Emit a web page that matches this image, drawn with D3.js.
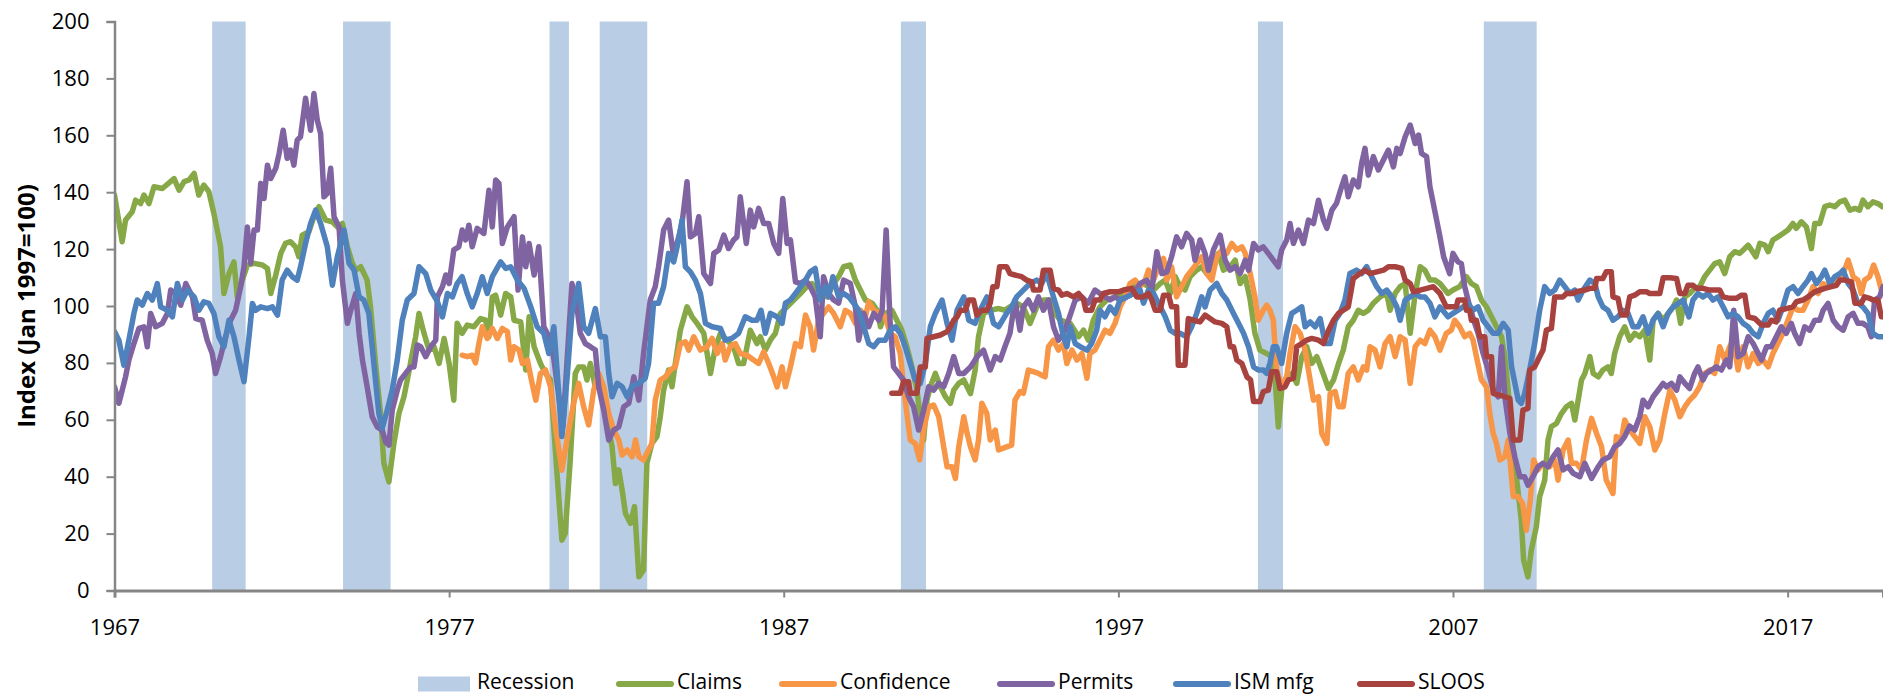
<!DOCTYPE html>
<html>
<head>
<meta charset="utf-8">
<script src="https://cdn.jsdelivr.net/npm/d3@7"></script>
<style>
  html, body { margin: 0; padding: 0; background: #fff; }
  svg { display: block; font-family: "Open Sans", "Liberation Sans", sans-serif; }
</style>
</head>
<body>
<div id="chart"></div>
<script>
/////////////////////
// Data (decimal year, index value)
/////////////////////
const recessions = [[1969.92, 1970.92], [1973.83, 1975.25], [1980.0, 1980.58], [1981.5, 1982.92],
  [1990.5, 1991.25], [2001.17, 2001.92], [2007.92, 2009.5]];

const yTicks = [0, 20, 40, 60, 80, 100, 120, 140, 160, 180, 200];
const xTicks = [1967, 1977, 1987, 1997, 2007, 2017];

const claims = [
  [1967.0,139],[1967.23,122.6],[1967.33,130.2],[1967.53,133.1],[1967.63,137.2],[1967.78,136],[1967.88,139],
  [1968.03,136],[1968.18,141.9],[1968.43,141.3],[1968.78,144.8],[1968.93,140.7],[1969.08,143.7],[1969.23,144.3],
  [1969.38,146.6],[1969.52,139],[1969.67,142.5],[1969.82,140.2],[1969.97,132.5],[1970.07,126.7],[1970.17,120.8],
  [1970.27,104.4],[1970.42,111.4],[1970.57,115.5],[1970.67,103.2],[1970.82,109.1],[1970.97,114.4],[1971.17,115],
  [1971.42,114.4],[1971.57,113.2],[1971.67,104.4],[1971.82,110.9],[1971.97,118.5],[1972.11,122],[1972.26,122.6],
  [1972.41,120.8],[1972.51,117.3],[1972.61,124.9],[1972.81,126.1],[1972.96,131.4],[1973.11,134.9],[1973.31,130.2],
  [1973.51,129.6],[1973.66,127.8],[1973.81,129],[1973.96,120.8],[1974.11,115],[1974.21,112.6],[1974.36,113.8],
  [1974.55,109.1],[1974.65,99.7],[1974.8,79.8],[1974.95,62.2],[1975.05,44.7],[1975.2,38.2],[1975.35,51.7],
  [1975.5,62.2],[1975.65,68.1],[1975.75,74],[1975.9,83.3],[1976.0,89.2],[1976.1,97.4],[1976.25,90.4],
  [1976.4,84.5],[1976.55,85.7],[1976.7,79.8],[1976.85,88.6],[1977.0,79.8],[1977.14,66.9],[1977.24,93.9],
  [1977.39,90.4],[1977.54,93.3],[1977.74,92.7],[1977.94,95.6],[1978.09,95],[1978.19,89.2],[1978.29,103.2],
  [1978.39,103.8],[1978.54,96.8],[1978.69,104.4],[1978.84,103.2],[1978.94,95],[1979.14,94.4],[1979.29,77.5],
  [1979.39,96.2],[1979.54,85.7],[1979.73,79.8],[1979.88,76.3],[1980.03,74],[1980.2,45],[1980.37,17.7],
  [1980.47,20.1],[1980.62,45.9],[1980.77,76.3],[1980.87,78.6],[1981.02,78.6],[1981.12,74],[1981.22,79.8],
  [1981.37,71.6],[1981.52,72.8],[1981.62,70.4],[1981.77,56.4],[1981.87,50.5],[1981.97,37.6],[1982.07,42.4],
  [1982.17,35.3],[1982.27,27.1],[1982.42,23.6],[1982.54,29.5],[1982.67,4.8],[1982.81,7.2],[1982.91,44.7],
  [1983.06,51.7],[1983.21,54.1],[1983.31,61.1],[1983.41,70.4],[1983.56,77.5],[1983.66,71.6],[1983.76,79.8],
  [1983.91,91.5],[1984.11,99.7],[1984.26,96.2],[1984.41,93.9],[1984.61,90.4],[1984.81,76.3],[1984.96,85.7],
  [1985.11,90.4],[1985.3,88],[1985.5,85.7],[1985.65,79.8],[1985.8,79.8],[1986.0,91.5],[1986.2,86.8],
  [1986.3,89.2],[1986.45,84.5],[1986.6,88],[1986.75,90.4],[1986.9,97.4],[1987.1,99.7],[1987.3,102.1],
  [1987.5,104.4],[1987.69,106.8],[1987.84,107.9],[1988.09,104.4],[1988.29,103.2],[1988.49,107.9],[1988.64,110.3],
  [1988.79,113.8],[1988.99,114.4],[1989.14,109.1],[1989.29,105.6],[1989.44,102.1],[1989.64,101],[1989.79,98.5],
  [1989.89,92.7],[1990.03,97.4],[1990.23,98.5],[1990.38,95],[1990.53,91.5],[1990.68,85.7],[1990.83,78.6],
  [1990.98,70.4],[1991.08,61.1],[1991.18,52.9],[1991.28,66.9],[1991.38,71.6],[1991.53,76.3],[1991.68,71.6],
  [1991.83,68.1],[1991.98,65.8],[1992.08,70.4],[1992.23,72.8],[1992.38,74],[1992.58,69.2],[1992.72,77.5],
  [1992.82,89.2],[1992.97,97.4],[1993.17,98.5],[1993.42,99.1],[1993.61,98.5],[1993.76,99.7],[1993.96,101],
  [1994.16,99.7],[1994.36,93.9],[1994.56,99.7],[1994.76,102.1],[1994.96,102.1],[1995.11,97.4],[1995.26,95],
  [1995.56,93.9],[1995.81,89.2],[1995.96,91.5],[1996.1,88],[1996.25,95],[1996.45,99.7],[1996.65,102.1],
  [1996.9,103.2],[1997.15,104.4],[1997.45,106.8],[1997.75,107.9],[1998.05,105.6],[1998.25,107.9],[1998.4,109.1],
  [1998.55,104.4],[1998.7,110.3],[1998.84,106.8],[1998.99,105.6],[1999.14,110.3],[1999.34,112.6],[1999.49,113.8],
  [1999.64,111.4],[1999.84,113.8],[1999.99,118.5],[2000.14,112.6],[2000.34,113.8],[2000.49,116.1],[2000.64,107.9],
  [2000.79,110.3],[2000.94,102.1],[2001.08,90.4],[2001.23,84.5],[2001.43,83.3],[2001.58,82.2],[2001.68,74.9],
  [2001.78,57.5],[2001.88,70.4],[2002.03,75.1],[2002.18,76.3],[2002.33,72.8],[2002.48,82.2],[2002.63,85.7],
  [2002.78,79.8],[2002.93,82.2],[2003.08,77.5],[2003.28,71],[2003.43,74],[2003.58,79.8],[2003.72,84.5],
  [2003.87,92.7],[2004.02,95],[2004.17,98.5],[2004.32,97.4],[2004.47,98.5],[2004.62,101],[2004.82,103.2],
  [2005.02,104.4],[2005.12,98.5],[2005.27,104.4],[2005.42,106.8],[2005.57,107.9],[2005.72,90.4],[2005.87,104.4],
  [2006.02,113.8],[2006.16,112.6],[2006.31,109.1],[2006.46,109.1],[2006.61,107.9],[2006.85,104.4],[2007.0,105.6],
  [2007.2,106.8],[2007.4,110.3],[2007.55,107.9],[2007.7,106.8],[2007.85,102.1],[2008.0,99.7],[2008.15,96.2],
  [2008.3,92.7],[2008.45,89.2],[2008.55,82.2],[2008.65,70.4],[2008.75,55.2],[2008.85,44.7],[2008.95,34.1],
  [2009.04,24.8],[2009.11,10.7],[2009.24,4.8],[2009.34,14.2],[2009.49,22.4],[2009.59,33],[2009.74,38.8],
  [2009.84,52.9],[2009.94,57.6],[2010.09,58.7],[2010.24,62.2],[2010.39,64.6],[2010.54,65.8],[2010.64,59.9],
  [2010.74,66.9],[2010.84,74],[2010.94,76.3],[2011.09,82.2],[2011.19,76.3],[2011.34,75.1],[2011.48,77.5],
  [2011.63,78.6],[2011.73,76.3],[2011.83,83.3],[2011.98,89.2],[2012.13,92.7],[2012.28,88],[2012.43,90.4],
  [2012.58,89.2],[2012.73,91.5],[2012.88,81],[2012.98,95],[2013.13,97.4],[2013.28,95],[2013.43,97.4],
  [2013.58,99.7],[2013.68,102.1],[2013.8,93.9],[2013.93,103.2],[2014.07,104.4],[2014.22,106.2],[2014.37,106.8],
  [2014.52,110.3],[2014.67,112.6],[2014.82,114.9],[2014.97,115.5],[2015.12,111.4],[2015.27,117.3],[2015.42,119.1],
  [2015.57,118.5],[2015.72,120.2],[2015.82,121.4],[2015.92,119.7],[2016.05,117.3],[2016.17,122],[2016.32,121.4],
  [2016.42,119.1],[2016.56,123.2],[2016.71,124.3],[2016.86,125.5],[2017.01,126.7],[2017.16,129],[2017.26,127.3],
  [2017.41,129.6],[2017.56,127.8],[2017.71,120.2],[2017.81,129],[2017.96,129],[2018.11,134.9],[2018.26,135.5],
  [2018.41,134.9],[2018.56,136.6],[2018.71,137.2],[2018.86,133.7],[2019.01,134.3],[2019.15,133.7],[2019.25,137.2],
  [2019.4,134.9],[2019.55,136.6],[2019.7,136],[2019.83,134.9]
];

const confidence = [
  [1977.39,82.7],[1977.54,82.2],[1977.69,82.7],[1977.79,80],[1977.89,86.8],[1977.99,92.7],[1978.14,88.6],
  [1978.29,92.1],[1978.44,88.6],[1978.59,92.1],[1978.74,91],[1978.84,81],[1978.94,85.7],[1979.09,84.5],
  [1979.19,79.8],[1979.34,81],[1979.44,75.1],[1979.59,66.9],[1979.73,76.3],[1979.88,77.5],[1980.03,71.6],
  [1980.18,57.5],[1980.37,42.3],[1980.52,52.9],[1980.72,65.8],[1980.87,72.8],[1981.02,64.6],[1981.17,58.2],
  [1981.32,70.4],[1981.47,76.3],[1981.62,71.6],[1981.77,62.2],[1981.92,56.4],[1982.07,52.9],[1982.17,47.6],
  [1982.32,49.4],[1982.47,47],[1982.57,52.9],[1982.67,47],[1982.81,45.9],[1982.96,49.4],[1983.06,51.7],
  [1983.16,66.9],[1983.31,74],[1983.46,75.1],[1983.61,77.5],[1983.76,78.6],[1983.91,86.8],[1984.06,87.4],
  [1984.16,84.5],[1984.31,89.2],[1984.51,84.5],[1984.71,85.7],[1984.86,88.6],[1985.01,83.3],[1985.16,86.8],
  [1985.25,81],[1985.4,85.7],[1985.55,86.8],[1985.7,83.3],[1985.9,82.7],[1986.1,81],[1986.25,79.8],
  [1986.4,83.9],[1986.55,79.8],[1986.7,75.1],[1986.8,71.6],[1986.95,78.6],[1987.05,71.6],[1987.2,78.6],
  [1987.35,86.8],[1987.5,85.7],[1987.65,96.8],[1987.79,92.7],[1987.89,84.5],[1988.04,95],[1988.19,97.4],
  [1988.34,99.7],[1988.49,97.4],[1988.69,92.7],[1988.84,98.5],[1988.99,97.4],[1989.14,93.9],[1989.29,98.5],
  [1989.44,96.2],[1989.54,101.5],[1989.69,98.5],[1989.89,97.4],[1990.03,96.2],[1990.18,90.4],[1990.33,89.2],
  [1990.48,83.3],[1990.63,66.9],[1990.78,52.9],[1990.93,51.7],[1991.06,45.9],[1991.18,56.4],[1991.33,64.6],
  [1991.48,65.2],[1991.63,61.1],[1991.78,50.5],[1991.88,43.5],[1992.03,43.5],[1992.13,39.4],[1992.23,50.5],
  [1992.38,61.1],[1992.48,55.2],[1992.58,50.5],[1992.72,45.9],[1992.82,52.9],[1992.92,65.8],[1993.07,62.2],
  [1993.17,52.9],[1993.32,56.4],[1993.42,49.4],[1993.66,50.5],[1993.81,51.1],[1993.91,66.9],[1994.06,69.9],
  [1994.16,69.3],[1994.31,77.5],[1994.46,76.9],[1994.61,76.3],[1994.81,75.1],[1994.91,85.7],[1995.06,88],
  [1995.21,84.5],[1995.36,86.8],[1995.46,79.8],[1995.61,84.5],[1995.76,81],[1995.91,83.3],[1996.06,74.6],
  [1996.15,83.3],[1996.3,84.5],[1996.45,88],[1996.6,91.5],[1996.75,90.4],[1996.9,93.9],[1997.05,99.7],
  [1997.2,103.2],[1997.35,107.9],[1997.5,109.1],[1997.65,106.8],[1997.8,109.1],[1997.9,112.6],[1998.05,109.1],
  [1998.2,113.8],[1998.35,116.7],[1998.45,109.1],[1998.59,113.8],[1998.74,103.2],[1998.89,106.8],[1999.04,110.3],
  [1999.19,112.6],[1999.34,114.9],[1999.49,117.3],[1999.64,111.4],[1999.79,109.1],[1999.94,117.3],[2000.09,119.6],
  [2000.24,118.5],[2000.39,122],[2000.54,119.7],[2000.69,120.8],[2000.79,118.5],[2000.94,111.4],[2001.08,103.2],
  [2001.18,95],[2001.33,98.5],[2001.43,100.3],[2001.53,98.5],[2001.63,95],[2001.73,77.5],[2001.88,71.6],
  [2002.03,75.1],[2002.13,83.3],[2002.28,92.7],[2002.43,90.4],[2002.58,84.5],[2002.73,74],[2002.83,66.9],
  [2002.98,68.1],[2003.08,55.2],[2003.23,51.7],[2003.33,69.3],[2003.48,69.9],[2003.58,64.6],[2003.72,64.6],
  [2003.87,76.3],[2004.02,78.6],[2004.17,74],[2004.32,78.6],[2004.42,77.5],[2004.52,85.7],[2004.67,84.5],
  [2004.82,78.6],[2004.97,86.8],[2005.12,89.2],[2005.27,82.2],[2005.42,89.2],[2005.57,88],[2005.72,72.8],
  [2005.87,85.7],[2006.02,88],[2006.16,86.8],[2006.31,91.5],[2006.46,89.2],[2006.61,84.5],[2006.8,90.4],
  [2006.95,91.5],[2007.05,95],[2007.2,92.7],[2007.35,89.2],[2007.5,90.4],[2007.6,88],[2007.7,82.2],
  [2007.85,74],[2008.0,71.6],[2008.1,62.2],[2008.2,55.2],[2008.3,51.7],[2008.4,45.9],[2008.55,47],
  [2008.65,52.9],[2008.8,33],[2008.95,33],[2009.08,30.6],[2009.19,21.2],[2009.31,31.8],[2009.41,45.9],
  [2009.54,42.4],[2009.69,44.7],[2009.89,43.5],[2010.04,45.9],[2010.14,38.8],[2010.29,49.4],[2010.44,52.9],
  [2010.54,44.7],[2010.69,44.7],[2010.84,42.4],[2010.99,52.9],[2011.14,60.5],[2011.29,55.2],[2011.44,50.5],
  [2011.58,38.8],[2011.78,34.1],[2011.88,54.1],[2012.03,52.9],[2012.13,59.9],[2012.28,56.4],[2012.43,54.1],
  [2012.58,51.7],[2012.73,61.1],[2012.88,57.6],[2013.03,49.4],[2013.18,52.9],[2013.33,62.2],[2013.48,70.4],
  [2013.63,66.9],[2013.78,61.1],[2013.93,64.6],[2014.07,66.9],[2014.22,68.7],[2014.37,71.6],[2014.52,76.3],
  [2014.67,77.5],[2014.82,76.3],[2014.97,85.7],[2015.12,81],[2015.27,85.7],[2015.37,88],[2015.52,77.5],
  [2015.67,85.7],[2015.82,78.6],[2015.97,83.3],[2016.12,79.8],[2016.27,81],[2016.42,78.6],[2016.56,83.3],
  [2016.71,86.8],[2016.86,90.4],[2017.01,95],[2017.16,99.7],[2017.31,98.5],[2017.46,98.5],[2017.61,102.1],
  [2017.76,106.8],[2017.91,104.4],[2018.06,107.9],[2018.21,106.8],[2018.36,107.9],[2018.51,110.3],[2018.66,111.4],
  [2018.81,116.1],[2018.96,110.3],[2019.1,109.1],[2019.2,104.4],[2019.3,109.1],[2019.45,110.3],[2019.57,114.4],
  [2019.7,110.3],[2019.83,104.4]
];

const permits = [
  [1967.0,71.6],[1967.13,65.8],[1967.23,70.4],[1967.33,75.1],[1967.43,81],[1967.58,86.8],[1967.73,92.1],
  [1967.88,92.7],[1967.98,85.7],[1968.08,97.4],[1968.23,92.7],[1968.43,93.9],[1968.58,97.4],[1968.68,105.6],
  [1968.83,104.4],[1968.98,100.3],[1969.13,107.9],[1969.33,103.2],[1969.43,95.6],[1969.62,95],[1969.77,88],
  [1969.92,83.3],[1970.02,76.3],[1970.17,82.2],[1970.32,89.2],[1970.47,95],[1970.62,98.5],[1970.77,106.8],
  [1970.87,113.8],[1970.97,127.8],[1971.07,115],[1971.17,126.7],[1971.27,126.7],[1971.37,143.1],[1971.47,137.8],
  [1971.57,149.5],[1971.67,144.8],[1971.82,148.4],[1971.92,153.6],[1972.04,161.8],[1972.16,151.9],[1972.26,154.8],
  [1972.36,149.5],[1972.46,158.3],[1972.56,159.5],[1972.71,173],[1972.86,161.8],[1972.96,174.7],[1973.06,165.3],
  [1973.16,160.6],[1973.26,138.4],[1973.36,139.6],[1973.46,148.4],[1973.56,131.4],[1973.71,127.8],[1973.81,109.1],
  [1973.96,93.9],[1974.06,98.5],[1974.21,104.4],[1974.31,90.4],[1974.41,81],[1974.55,71.6],[1974.7,61.1],
  [1974.85,57.5],[1975.0,56.4],[1975.1,52.3],[1975.2,51.1],[1975.3,63.4],[1975.45,70.4],[1975.55,74],
  [1975.7,76.3],[1975.85,78.6],[1975.95,78.6],[1976.05,86.3],[1976.15,85.7],[1976.3,82.2],[1976.45,85.7],
  [1976.6,88],[1976.65,103.2],[1976.8,106.8],[1976.9,110.9],[1977.0,107.9],[1977.14,119.7],[1977.29,120.8],
  [1977.39,126.7],[1977.49,123.2],[1977.59,128.4],[1977.69,120.8],[1977.84,127.3],[1978.04,125.5],[1978.19,140.7],
  [1978.29,127.8],[1978.39,144.3],[1978.49,143.1],[1978.59,122],[1978.74,127.8],[1978.94,131.4],[1979.06,105.6],
  [1979.19,124.3],[1979.29,113.8],[1979.39,122],[1979.54,110.9],[1979.68,120.8],[1979.83,92.7],[1979.93,90.4],
  [1980.08,85.7],[1980.4,57.5],[1980.67,107.9],[1980.82,99.7],[1980.92,90.4],[1981.07,86.8],[1981.22,85.7],
  [1981.37,84.5],[1981.47,71.6],[1981.62,63.4],[1981.77,52.9],[1981.92,56.4],[1982.07,57.5],[1982.22,64.6],
  [1982.37,65.8],[1982.52,75.1],[1982.67,66.9],[1982.81,83.3],[1982.91,92.7],[1983.01,102.1],[1983.16,106.8],
  [1983.26,113.8],[1983.41,126.7],[1983.56,130.2],[1983.71,117.3],[1983.86,124.3],[1983.96,129],[1984.11,143.7],
  [1984.21,124.3],[1984.36,125.5],[1984.46,131.4],[1984.61,111.4],[1984.81,107.9],[1984.91,118.5],[1985.06,119.7],
  [1985.21,124.9],[1985.35,120.2],[1985.5,123.2],[1985.6,124.3],[1985.7,138.4],[1985.88,122],[1986.0,133.7],
  [1986.1,127.8],[1986.25,134.3],[1986.4,129],[1986.55,129],[1986.7,122],[1986.85,118.5],[1986.97,137.8],
  [1987.1,122],[1987.2,123.2],[1987.35,108.5],[1987.5,107.9],[1987.65,109.1],[1987.79,106.8],[1987.94,103.2],
  [1988.09,89.2],[1988.19,110.3],[1988.34,104.4],[1988.49,102.1],[1988.64,101],[1988.79,109.1],[1988.99,107.9],
  [1989.14,99.7],[1989.24,88],[1989.39,97.4],[1989.54,92.7],[1989.69,97.4],[1989.84,95],[1989.94,98.5],
  [1990.06,126.7],[1990.18,93.9],[1990.28,78.6],[1990.43,76.3],[1990.58,74],[1990.73,68.1],[1990.88,64.6],
  [1991.03,56.4],[1991.18,63.4],[1991.33,71.6],[1991.48,70.4],[1991.63,72.8],[1991.78,71.6],[1991.93,76.3],
  [1992.08,82.2],[1992.23,76.3],[1992.38,76.3],[1992.58,78.6],[1992.78,82.2],[1992.97,84.5],[1993.17,77.5],
  [1993.32,82.2],[1993.47,81],[1993.61,85.7],[1993.76,90.4],[1993.91,102.1],[1994.06,91.5],[1994.16,99.7],
  [1994.31,102.1],[1994.46,98.5],[1994.61,103.2],[1994.76,98.5],[1994.91,102.1],[1995.06,92.7],[1995.21,88],
  [1995.36,90.4],[1995.51,95],[1995.71,102.1],[1995.91,103.2],[1996.1,101],[1996.3,105.6],[1996.45,104.4],
  [1996.6,103.2],[1996.75,102.1],[1996.9,103.2],[1997.05,102.1],[1997.25,103.2],[1997.45,104.4],[1997.65,107.9],
  [1997.85,109.1],[1998.0,105.6],[1998.15,119.1],[1998.3,111.4],[1998.45,112],[1998.59,117.3],[1998.74,124.3],
  [1998.89,120.8],[1999.04,125.5],[1999.19,123.2],[1999.29,116.1],[1999.44,123.2],[1999.59,118.5],[1999.69,112.6],
  [1999.84,119.7],[2000.04,124.9],[2000.19,116.1],[2000.34,112.6],[2000.49,113.8],[2000.64,111.4],[2000.79,116.1],
  [2000.89,112.6],[2001.04,122],[2001.18,119.7],[2001.33,120.8],[2001.48,118.5],[2001.63,116.1],[2001.78,113.8],
  [2001.88,119.7],[2002.03,123.2],[2002.13,129],[2002.23,122],[2002.38,126.7],[2002.53,122],[2002.68,130.2],
  [2002.83,129],[2002.98,137.2],[2003.13,130.2],[2003.23,127.3],[2003.38,133.7],[2003.52,136.1],[2003.67,141.9],
  [2003.77,145.4],[2003.87,138.4],[2004.02,144.3],[2004.17,141.9],[2004.27,150.1],[2004.37,155.4],[2004.47,146],
  [2004.62,152.5],[2004.77,147.8],[2004.92,151.3],[2005.07,154.8],[2005.22,148.9],[2005.32,155.4],[2005.42,153.6],
  [2005.57,159.5],[2005.72,163.6],[2005.87,157.1],[2005.97,160.1],[2006.06,153.6],[2006.21,152.5],[2006.31,141.9],
  [2006.41,136.1],[2006.51,130.2],[2006.61,124.3],[2006.72,117.3],[2006.9,111.4],[2007.0,118.5],[2007.15,115.5],
  [2007.25,114.9],[2007.35,106.8],[2007.5,99.7],[2007.65,93.9],[2007.75,90.4],[2007.9,83.3],[2008.05,77.5],
  [2008.2,70.4],[2008.35,68.1],[2008.45,85.7],[2008.55,68.1],[2008.7,55.2],[2008.85,46.8],[2009.0,40],
  [2009.14,40],[2009.24,37],[2009.39,40],[2009.54,43.5],[2009.69,44.7],[2009.84,43.5],[2009.99,47],
  [2010.14,49.4],[2010.29,42.4],[2010.44,43.5],[2010.59,41.2],[2010.79,40],[2010.94,44.7],[2011.14,39.4],
  [2011.34,43.5],[2011.48,45.9],[2011.68,47],[2011.83,50.5],[2011.98,51.7],[2012.13,54.1],[2012.28,57.8],
  [2012.43,56.4],[2012.58,61.1],[2012.68,66.9],[2012.83,64.6],[2012.98,68.1],[2013.13,70.4],[2013.28,72.8],
  [2013.38,71.6],[2013.53,72.8],[2013.68,70.4],[2013.78,75.1],[2013.93,72.8],[2014.07,71],[2014.22,76.3],
  [2014.32,78.6],[2014.47,74],[2014.57,76.3],[2014.72,77.5],[2014.87,78.6],[2015.02,77.5],[2015.17,81],
  [2015.27,78.6],[2015.39,98.5],[2015.52,82.2],[2015.67,83.3],[2015.82,89.2],[2015.97,86.8],[2016.12,83.3],
  [2016.22,81],[2016.37,85.7],[2016.51,85.7],[2016.66,89.2],[2016.81,92.7],[2016.96,90.4],[2017.11,93.9],
  [2017.21,90.4],[2017.36,86.8],[2017.51,92.7],[2017.66,91.5],[2017.81,95],[2017.96,95],[2018.06,98.5],
  [2018.21,100.9],[2018.36,95],[2018.51,92.7],[2018.66,91.5],[2018.81,96.2],[2018.96,97.4],[2019.1,93.9],
  [2019.25,93.9],[2019.4,92.7],[2019.5,89.2],[2019.6,102.1],[2019.75,103.2],[2019.85,106.8]
];

const ism = [
  [1967.0,91],[1967.13,88],[1967.28,79.2],[1967.43,88],[1967.58,97.4],[1967.68,102.1],[1967.83,100.3],
  [1967.98,104.4],[1968.13,102.1],[1968.28,107.9],[1968.38,99.7],[1968.58,98.5],[1968.73,96.2],[1968.88,107.9],
  [1969.03,102.1],[1969.18,105.6],[1969.38,103.2],[1969.52,98.5],[1969.67,101.5],[1969.82,100.9],[1969.97,97.4],
  [1970.12,89.2],[1970.27,85.7],[1970.42,95],[1970.57,89.2],[1970.72,81],[1970.87,73.4],[1971.02,89.2],
  [1971.12,100.9],[1971.22,98.5],[1971.37,99.7],[1971.57,99.1],[1971.72,99.7],[1971.87,96.8],[1972.01,109.1],
  [1972.16,112.6],[1972.31,110.3],[1972.46,109.1],[1972.56,113.8],[1972.71,122],[1972.86,129],[1973.01,133.7],
  [1973.16,129],[1973.36,120.8],[1973.51,107.3],[1973.66,117.3],[1973.86,126.7],[1974.01,115],[1974.16,112.6],
  [1974.31,103.2],[1974.45,102.1],[1974.6,97.4],[1974.75,79.8],[1974.9,62.2],[1975.0,57],[1975.15,63.4],
  [1975.3,70.4],[1975.45,81],[1975.6,95],[1975.75,102.1],[1975.95,104.4],[1976.1,113.8],[1976.3,111.4],
  [1976.45,105.6],[1976.65,101.5],[1976.8,96.2],[1976.95,104.4],[1977.1,103.2],[1977.24,107.9],[1977.39,110.3],
  [1977.54,104.4],[1977.69,99.7],[1977.84,104.4],[1977.99,110.3],[1978.14,104.4],[1978.29,110.3],[1978.54,115.5],
  [1978.69,113.2],[1978.84,113.8],[1979.04,109.1],[1979.24,106.2],[1979.44,99.7],[1979.63,92.7],[1979.83,90.4],
  [1979.98,83.3],[1980.13,92.7],[1980.37,54.1],[1980.52,74],[1980.67,97.4],[1980.87,107.9],[1981.02,92.7],
  [1981.17,90.4],[1981.37,99.1],[1981.52,89.2],[1981.67,89.2],[1981.77,76.3],[1981.87,68.1],[1982.02,72.8],
  [1982.17,71.6],[1982.32,68.1],[1982.47,71.9],[1982.67,72.8],[1982.86,74.6],[1982.96,79.8],[1983.11,101],
  [1983.26,101],[1983.41,106.8],[1983.56,118.5],[1983.71,115.5],[1983.86,123.2],[1983.96,130.2],[1984.06,113.8],
  [1984.21,112],[1984.36,109.1],[1984.51,104.4],[1984.66,93.9],[1984.86,92.7],[1985.11,92.1],[1985.25,88],
  [1985.45,88.6],[1985.65,90.4],[1985.85,96.2],[1986.05,95],[1986.2,95],[1986.32,98.5],[1986.45,90.4],
  [1986.6,97.4],[1986.8,96.2],[1986.95,93.9],[1987.05,101],[1987.2,102.1],[1987.35,104.4],[1987.5,106.8],
  [1987.65,109.1],[1987.79,112],[1987.94,113.2],[1988.09,102.1],[1988.24,106.8],[1988.34,103.2],[1988.47,110.3],
  [1988.64,103.2],[1988.79,104.4],[1988.94,103.2],[1989.09,101],[1989.24,98.5],[1989.39,92.7],[1989.54,86.8],
  [1989.69,85.7],[1989.84,88],[1990.03,88],[1990.18,91.5],[1990.33,92.7],[1990.48,90.4],[1990.63,85.7],
  [1990.78,79.8],[1990.93,74],[1991.08,72.8],[1991.23,79.8],[1991.38,92.7],[1991.53,97.4],[1991.73,102.1],
  [1991.88,93.9],[1992.03,88],[1992.18,98.5],[1992.38,103.2],[1992.53,95],[1992.72,93.9],[1992.87,98.5],
  [1993.07,103.2],[1993.27,93.9],[1993.42,92.7],[1993.66,97.4],[1993.81,99.7],[1993.96,103.2],[1994.16,105.6],
  [1994.36,107.9],[1994.56,109.1],[1994.71,107.9],[1994.86,111.4],[1995.06,103.2],[1995.21,97.4],[1995.36,89.2],
  [1995.46,85.7],[1995.56,92.7],[1995.71,86.8],[1995.86,85.7],[1996.06,84.5],[1996.2,86.8],[1996.35,91.5],
  [1996.45,98.5],[1996.6,96.2],[1996.75,99.7],[1996.9,97.4],[1997.05,102.1],[1997.25,103.2],[1997.45,104.4],
  [1997.65,105.6],[1997.75,101],[1997.9,105.6],[1998.05,104.4],[1998.25,99.7],[1998.4,96.2],[1998.55,91.5],
  [1998.7,90.4],[1998.84,90.4],[1999.04,89.2],[1999.19,92.7],[1999.34,97.4],[1999.49,103.2],[1999.59,99.7],
  [1999.74,105.6],[1999.94,107.9],[2000.09,104.4],[2000.24,102.1],[2000.44,97.4],[2000.59,93.9],[2000.74,90.4],
  [2000.89,85.7],[2001.04,78.6],[2001.18,77.5],[2001.33,77.5],[2001.43,76.3],[2001.53,79.8],[2001.63,85.7],
  [2001.73,85.7],[2001.88,79.8],[2002.03,90.4],[2002.18,97.4],[2002.33,98.5],[2002.48,99.7],[2002.58,92.7],
  [2002.73,94.4],[2002.88,92.7],[2003.03,95.6],[2003.18,86.8],[2003.33,86.8],[2003.48,95],[2003.62,97.4],
  [2003.77,102.1],[2003.92,111.4],[2004.12,112.6],[2004.27,111.4],[2004.42,113.8],[2004.57,110.3],[2004.72,106.8],
  [2004.87,104.4],[2005.02,105.6],[2005.17,103.2],[2005.32,99.7],[2005.42,95],[2005.57,102.1],[2005.72,103.2],
  [2005.87,104.4],[2006.02,103.2],[2006.16,103.2],[2006.31,101],[2006.46,96.2],[2006.61,99.7],[2006.85,96.2],
  [2007.0,97.4],[2007.15,98.5],[2007.45,100.9],[2007.6,98.5],[2007.75,99.7],[2007.9,95],[2008.05,92.7],
  [2008.2,90.4],[2008.35,90.4],[2008.5,93.9],[2008.65,91.5],[2008.75,78.6],[2008.85,72.8],[2008.95,66.9],
  [2009.04,65.8],[2009.14,69.2],[2009.29,77.5],[2009.44,86.8],[2009.59,98.5],[2009.74,106.8],[2009.89,104.4],
  [2010.04,105.6],[2010.19,109.1],[2010.34,106.8],[2010.49,104.4],[2010.64,105.6],[2010.74,102.1],[2010.89,105.6],
  [2011.09,109.1],[2011.24,107.9],[2011.34,103.2],[2011.48,99.7],[2011.63,98.5],[2011.78,95],[2011.93,96.2],
  [2012.08,98.5],[2012.23,97.4],[2012.38,92.7],[2012.53,92.7],[2012.68,96.2],[2012.83,90.4],[2012.98,95],
  [2013.13,97.4],[2013.28,92.7],[2013.43,97.4],[2013.58,99.7],[2013.73,100.9],[2013.88,102.1],[2014.05,96.2],
  [2014.17,102.1],[2014.32,104.4],[2014.47,103.2],[2014.62,104.4],[2014.77,102.1],[2014.92,103.2],[2015.07,99.7],
  [2015.22,96.2],[2015.37,97.4],[2015.52,96.2],[2015.67,93.9],[2015.82,92.7],[2015.97,90.4],[2016.12,89.2],
  [2016.27,93.9],[2016.42,97.4],[2016.56,98.5],[2016.71,95],[2016.86,99.7],[2017.01,105.6],[2017.16,106.8],
  [2017.31,104.4],[2017.46,106.8],[2017.61,109.1],[2017.71,111.4],[2017.86,107.9],[2018.01,110.3],[2018.11,112.6],
  [2018.26,107.9],[2018.41,110.3],[2018.56,111.4],[2018.66,112.6],[2018.81,107.9],[2018.96,105.6],[2019.1,101],
  [2019.25,99.7],[2019.4,97.4],[2019.55,90.4],[2019.7,89.2],[2019.83,89.2]
];

const sloos = [
  [1990.23,69.3],[1990.48,69.3],[1990.58,73.4],[1990.73,73.4],[1990.78,69.3],[1990.98,69.3],[1991.08,78.6],
  [1991.23,78.6],[1991.28,88.6],[1991.48,89.2],[1991.68,89.8],[1991.88,91],[1991.98,92.7],[1992.08,95],
  [1992.18,96.2],[1992.28,98.5],[1992.43,98.5],[1992.53,102.1],[1992.67,102.1],[1992.77,96.8],[1992.92,98.5],
  [1993.07,98.5],[1993.17,101],[1993.25,106.8],[1993.37,106.8],[1993.45,113.8],[1993.66,113.8],[1993.76,111.4],
  [1993.91,110.9],[1994.11,110.3],[1994.26,109.1],[1994.41,108.5],[1994.46,105.6],[1994.66,105.6],[1994.76,112.6],
  [1994.96,112.6],[1995.06,106.2],[1995.21,105.6],[1995.31,103.8],[1995.46,104.4],[1995.66,103.2],[1995.81,104.4],
  [1995.96,102.1],[1996.03,98.5],[1996.2,98.5],[1996.3,102.1],[1996.45,102.1],[1996.55,104.4],[1996.75,105],
  [1997.0,105],[1997.15,105.6],[1997.4,106.2],[1997.55,103.2],[1997.75,103.2],[1997.9,104.4],[1998.0,102.1],
  [1998.1,98.5],[1998.25,98.5],[1998.35,103.8],[1998.5,103.8],[1998.59,99.7],[1998.74,99.7],[1998.79,79.2],
  [1998.99,79.2],[1999.09,95.6],[1999.24,95],[1999.44,94.4],[1999.59,96.8],[1999.74,95.6],[1999.89,94.4],
  [2000.09,93.9],[2000.24,92.7],[2000.34,85.7],[2000.44,85.7],[2000.54,81],[2000.69,79.8],[2000.84,75.1],
  [2000.95,74],[2001.04,66.4],[2001.23,66.4],[2001.33,69.9],[2001.48,70.4],[2001.58,76.9],[2001.73,76.9],
  [2001.83,71],[2001.98,71.6],[2002.08,74],[2002.23,74.6],[2002.33,85.7],[2002.48,86.8],[2002.63,88],
  [2002.78,88.6],[2002.98,88],[2003.13,86.8],[2003.28,91.5],[2003.43,95],[2003.58,97.4],[2003.72,98.5],
  [2003.87,99.7],[2004.02,109.7],[2004.22,111.4],[2004.37,112.6],[2004.52,111.4],[2004.72,112],[2004.92,112.6],
  [2005.07,113.8],[2005.27,113.8],[2005.47,113.2],[2005.57,109.1],[2005.72,107.9],[2005.82,105],[2006.02,105.6],
  [2006.22,106.2],[2006.41,106.8],[2006.61,104.4],[2006.8,99.7],[2007.1,99.7],[2007.15,102.1],[2007.35,102.1],
  [2007.4,98.5],[2007.5,98.5],[2007.55,95],[2007.7,95],[2007.8,89.2],[2007.95,89.2],[2008.0,82.2],
  [2008.15,82.2],[2008.2,69.3],[2008.4,68.7],[2008.55,68.1],[2008.7,67.5],[2008.8,52.9],[2009.0,52.9],
  [2009.09,63.4],[2009.24,64],[2009.29,77.5],[2009.44,78.6],[2009.54,81],[2009.69,84.5],[2009.79,91.5],
  [2009.94,92.1],[2010.04,103.2],[2010.29,103.2],[2010.39,104.4],[2010.59,104.4],[2010.69,105],[2010.94,105.6],
  [2011.09,106.2],[2011.24,106.2],[2011.29,109.7],[2011.48,109.7],[2011.58,112],[2011.73,112],[2011.78,103.2],
  [2011.93,102.7],[2012.03,96.8],[2012.18,96.8],[2012.28,103.2],[2012.43,103.8],[2012.58,105],[2012.78,105],
  [2012.88,104.4],[2013.18,104.4],[2013.28,109.9],[2013.48,109.9],[2013.68,109.7],[2013.78,104.4],[2013.93,104.4],
  [2014.02,107.3],[2014.17,107.3],[2014.27,106.2],[2014.47,106.2],[2014.67,105.6],[2014.97,105.6],[2015.07,103.2],
  [2015.27,102.7],[2015.47,102.7],[2015.62,103.8],[2015.72,103.8],[2015.82,96.2],[2016.02,95.6],[2016.22,93.3],
  [2016.42,93.3],[2016.51,95],[2016.66,94.4],[2016.76,98.5],[2016.96,99.1],[2017.16,99.7],[2017.26,101.5],
  [2017.46,102.1],[2017.61,103.2],[2017.81,105],[2017.96,105.6],[2018.11,106.2],[2018.31,106.8],[2018.46,107.3],
  [2018.56,109.1],[2018.71,109.1],[2018.91,108.5],[2019.01,101],[2019.2,101],[2019.3,103.2],[2019.45,102.7],
  [2019.55,102.1],[2019.7,102.1],[2019.8,96.2],[2019.85,96.2]
];

const seriesNames = ["Claims", "Confidence", "Permits", "ISM mfg", "SLOOS"];
const seriesValues = [claims, confidence, permits, ism, sloos];
const seriesColors = ["#86A846", "#F79646", "#8064A2", "#4F81BD", "#A8423F"];

/////////////////////
// Dimensions
/////////////////////
const W = 1883, H = 696;
const plot = { left: 114.5, right: 1883, top: 21.5, bottom: 590.5 };

const svg = d3.select("#chart")
  .append("svg")
  .attr("width", W)
  .attr("height", H)
  .attr("viewBox", `0 0 ${W} ${H}`);

const xScale = d3.scaleLinear()
  .domain([1967, 2019.85])
  .range([plot.left, plot.right]);

const yScale = d3.scaleLinear()
  .domain([0, 200])
  .range([plot.bottom, plot.top]);

svg.append("defs").append("clipPath")
  .attr("id", "clip")
  .append("rect")
  .attr("x", plot.left)
  .attr("y", plot.top - 5)
  .attr("width", plot.right - plot.left)
  .attr("height", plot.bottom - plot.top + 5);

// recession bands
svg.append("g")
  .selectAll("rect")
  .data(recessions)
  .join("rect")
  .attr("x", d => xScale(d[0]))
  .attr("width", d => xScale(d[1]) - xScale(d[0]))
  .attr("y", yScale(200))
  .attr("height", yScale(0) - yScale(200))
  .attr("fill", "#B9CDE5");

// lines, drawn in legend order so SLOOS ends up on top
const line = d3.line()
  .x(d => xScale(d[0]))
  .y(d => yScale(d[1]));

svg.append("g")
  .attr("clip-path", "url(#clip)")
  .selectAll("path")
  .data(seriesValues)
  .join("path")
  .attr("d", line)
  .attr("fill", "none")
  .attr("stroke", (d, i) => seriesColors[i])
  .attr("stroke-width", 5.5)
  .attr("stroke-linejoin", "round")
  .attr("stroke-linecap", "round");

/////////////////////
// Axes
/////////////////////
const axisColor = "#868686";

const yAxis = svg.append("g")
  .attr("transform", `translate(${plot.left},0)`)
  .call(d3.axisLeft(yScale).tickValues(yTicks).tickSize(8).tickPadding(17));
yAxis.select(".domain").attr("stroke", axisColor).attr("stroke-width", 2.5);
yAxis.selectAll(".tick line").attr("stroke", axisColor).attr("stroke-width", 2);
yAxis.selectAll("text").attr("font-size", 22).attr("fill", "#000")
  .style("font-family", "'Open Sans', sans-serif");

const xAxis = svg.append("g")
  .attr("transform", `translate(0,${plot.bottom})`)
  .call(d3.axisBottom(xScale).tickValues(xTicks).tickFormat(d3.format("d")).tickSize(7).tickPadding(22));
xAxis.select(".domain").attr("stroke", axisColor).attr("stroke-width", 3);
xAxis.selectAll(".tick line").attr("stroke", axisColor).attr("stroke-width", 2);
xAxis.selectAll("text").attr("font-size", 22).attr("fill", "#000")
  .style("font-family", "'Open Sans', sans-serif");

// y axis title, centred on the plot
svg.append("text")
  .attr("transform", `translate(25,${(plot.top + plot.bottom) / 2}) rotate(-90)`)
  .attr("text-anchor", "middle")
  .attr("dominant-baseline", "central")
  .attr("font-size", 24)
  .attr("font-weight", "bold")
  .text("Index (Jan 1997=100)");

/////////////////////
// Legend
/////////////////////
const legendItems = ["Recession"].concat(seriesNames);
const legendColors = ["#B9CDE5"].concat(seriesColors);
const legendX = [418, 617, 780, 998, 1174, 1358];
const legendY = 684;

const legend = svg.append("g");
legendItems.forEach((name, i) => {
  const g = legend.append("g").attr("transform", `translate(${legendX[i]},${legendY})`);
  if (i === 0) {
    g.append("rect").attr("x", 0).attr("y", -7.5).attr("width", 52).attr("height", 15)
      .attr("fill", legendColors[i]);
  } else {
    g.append("line").attr("x1", 2).attr("x2", 54).attr("y1", 0).attr("y2", 0)
      .attr("stroke", legendColors[i]).attr("stroke-width", 6).attr("stroke-linecap", "round");
  }
  g.append("text")
    .attr("x", i === 0 ? 59 : 60)
    .attr("y", 5)
    .attr("font-size", 21)
    .text(name);
});
</script>
</body>
</html>
